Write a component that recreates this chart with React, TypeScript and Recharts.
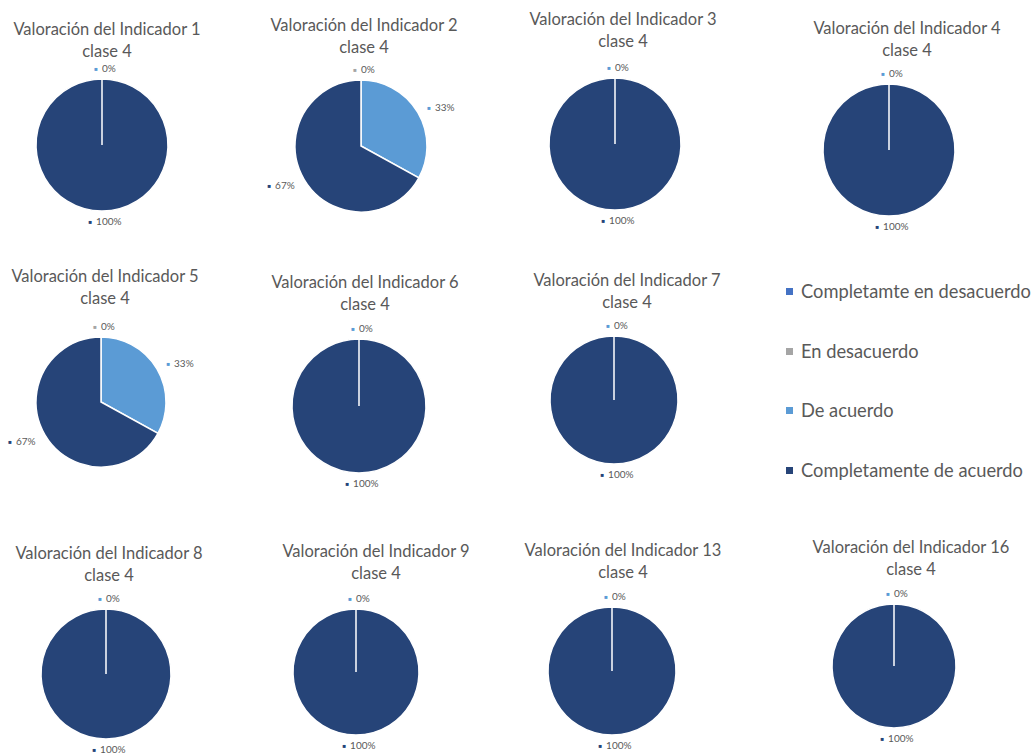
import React from 'react';
import { PieChart, Pie, Cell } from 'recharts';

const categorias = ['Completamte en desacuerdo', 'En desacuerdo', 'De acuerdo', 'Completamente de acuerdo'];
const indicadores = ['1', '2', '3', '4', '5', '6', '7', '8', '9', '13', '16'];
// % of answers per category, one value per indicador
const completamteEnDesacuerdo = [0, 0, 0, 0, 0, 0, 0, 0, 0, 0, 0];
const enDesacuerdo = [0, 0, 0, 0, 0, 0, 0, 0, 0, 0, 0];
const deAcuerdo = [0, 33, 0, 0, 33, 0, 0, 0, 0, 0, 0];
const completamenteDeAcuerdo = [100, 67, 100, 100, 67, 100, 100, 100, 100, 100, 100];

const colores = ['#4472C4', '#A5A5A5', '#5B9BD5', '#264478'];
const textGrey = '#595959';
const font = 'Lato, "Liberation Sans", sans-serif';

// where each small chart sits on the page: pie centre + radius, title centre
const panels = [
  { cx: 102, cy: 145, r: 66, tx: 107, ty: 29 },
  { cx: 361, cy: 146, r: 66, tx: 364, ty: 25 },
  { cx: 615, cy: 144, r: 66, tx: 623, ty: 19 },
  { cx: 889, cy: 150, r: 66, tx: 907, ty: 28 },
  { cx: 101, cy: 402, r: 65, tx: 105, ty: 276 },
  { cx: 359, cy: 406, r: 67, tx: 365, ty: 282 },
  { cx: 614, cy: 400, r: 64, tx: 627, ty: 280 },
  { cx: 106, cy: 674, r: 65, tx: 109, ty: 553 },
  { cx: 356, cy: 672, r: 63, tx: 376, ty: 551 },
  { cx: 612, cy: 671, r: 64, tx: 623, ty: 550 },
  { cx: 894, cy: 666, r: 62, tx: 911, ty: 547 },
];

const legendY = [291, 351, 410, 470];

const W = 280;
const H = 210;
const RAD = Math.PI / 180;

function makeLabel(values: number[]) {
  return function PctLabel(props: any) {
    const { cx, cy, midAngle, outerRadius, percent, index } = props;
    // zero slices stack on the same spot; only the last one stays visible
    if (values[index] === 0 && values[index + 1] === 0) return <g />;
    const bottom = Math.sin(-midAngle * RAD) > 0.9;
    const d = outerRadius + (bottom ? 10 : 11);
    const cos = Math.cos(-midAngle * RAD);
    const sin = Math.sin(-midAngle * RAD);
    const x = cx + d * cos + (Math.abs(cos) < 0.2 ? 3 : 0);
    const y = cy + d * sin;
    const anchor = Math.abs(cos) < 0.2 ? 'middle' : cos > 0 ? 'start' : 'end';
    return (
      <text x={x} y={y} textAnchor={anchor} dominantBaseline="central" fontFamily={font} fill={textGrey}>
        <tspan fontSize={6} fill={colores[index]}>■</tspan>
        <tspan fontSize={10} dx={4}>{`${Math.round(percent * 100)}%`}</tspan>
      </text>
    );
  };
}

function Panel({ i }: { i: number }) {
  const p = panels[i];
  const values = [completamteEnDesacuerdo, enDesacuerdo, deAcuerdo, completamenteDeAcuerdo].map((s) => s[i]);
  const data = categorias.map((name, k) => ({ name, value: values[k] }));
  return (
    <>
      <div
        style={{
          position: 'absolute',
          left: p.tx - 150,
          top: p.ty - 11,
          width: 300,
          textAlign: 'center',
          fontSize: 16.5,
          lineHeight: '22px',
          color: textGrey,
          fontFamily: font,
        }}
      >
        <div>Valoración del Indicador {indicadores[i]}</div>
        <div>clase 4</div>
      </div>
      <div style={{ position: 'absolute', left: p.cx - W / 2, top: p.cy - H / 2 }}>
        <PieChart width={W} height={H} margin={{ top: 0, right: 0, bottom: 0, left: 0 }}>
          <Pie
            data={data}
            dataKey="value"
            cx={W / 2}
            cy={H / 2}
            outerRadius={p.r}
            startAngle={90}
            endAngle={-270}
            stroke="#fff"
            strokeWidth={1.5}
            label={makeLabel(values)}
            labelLine={false}
            isAnimationActive={false}
          >
            {data.map((d, k) => (
              <Cell key={d.name} fill={colores[k]} />
            ))}
          </Pie>
        </PieChart>
      </div>
    </>
  );
}

export default function App() {
  return (
    <div style={{ position: 'absolute', left: 0, top: 0, width: 1036, height: 756, background: '#fff', overflow: 'hidden' }}>
      {panels.map((_, i) => (
        <Panel key={i} i={i} />
      ))}
      {categorias.map((c, k) => (
        <div
          key={c}
          style={{
            position: 'absolute',
            left: 786,
            top: legendY[k] - 12,
            height: 24,
            display: 'flex',
            alignItems: 'center',
            fontFamily: font,
            fontSize: 18.3,
            color: textGrey,
            whiteSpace: 'nowrap',
          }}
        >
          <span style={{ width: 7, height: 7, background: colores[k], marginRight: 8 }} />
          {c}
        </div>
      ))}
    </div>
  );
}
